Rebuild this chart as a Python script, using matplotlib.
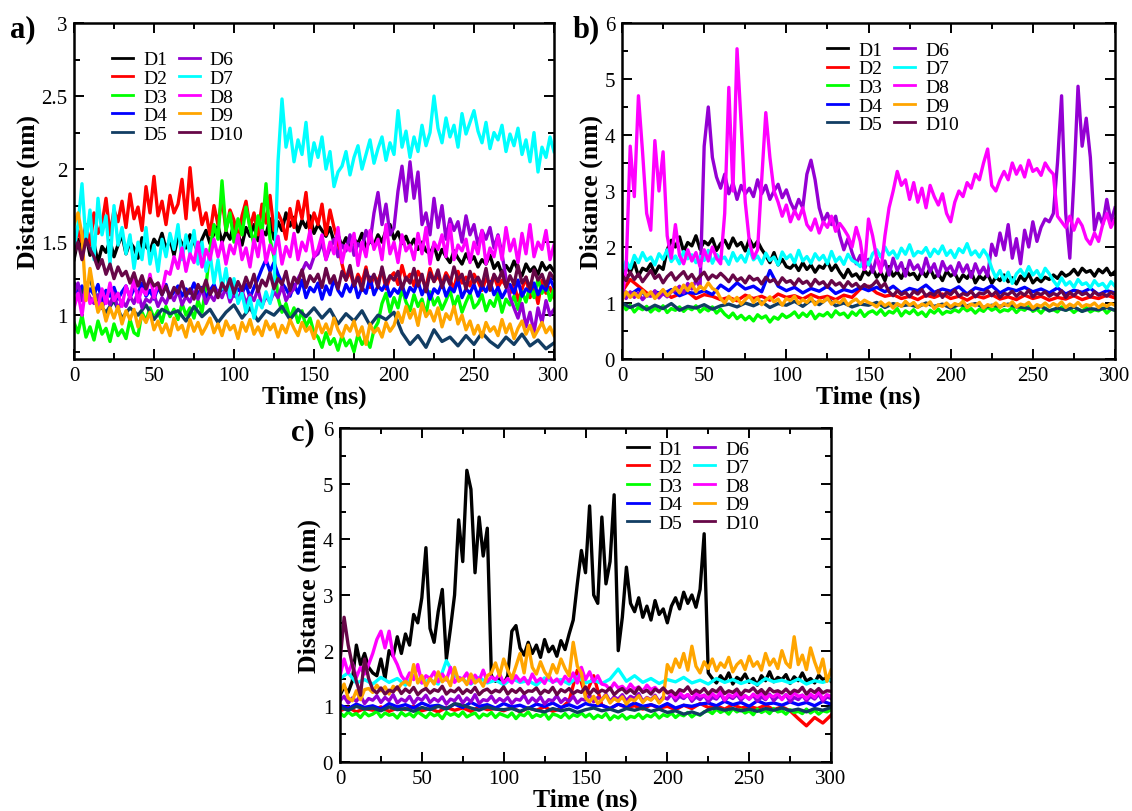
import numpy as np
import matplotlib
matplotlib.use("Agg")
import matplotlib.pyplot as plt
from matplotlib.ticker import MultipleLocator, FuncFormatter

plt.rcParams['font.family'] = ['Liberation Serif', 'DejaVu Serif']

labels = ['D1', 'D2', 'D3', 'D4', 'D5', 'D6', 'D7', 'D8', 'D9', 'D10']
colors = ['#000000', '#ff0000', '#00ff00', '#0000ff', '#123d63',
          '#9400d3', '#00ffff', '#ff00ff', '#ffa500', '#670748']
x_ticks = [0, 50, 100, 150, 200, 250, 300]

# ---------------- panel a: distances (nm), sampled uniformly over 0-300 ns
a_d1 = [1.38,1.52,1.44,1.55,1.41,1.49,1.36,1.47,1.43,
        1.51,1.40,1.48,1.55,1.42,1.50,1.46,1.39,1.53,1.47,1.44,1.52,
        1.48,1.56,1.45,1.52,1.41,1.54,1.49,1.46,1.55,1.50,1.43,1.52,
        1.58,1.49,1.56,1.61,1.50,1.57,1.52,1.63,1.55,1.48,1.60,1.54,1.62,1.51,1.58,1.55,1.66,1.52,
        1.64,1.58,1.70,1.61,1.67,1.57,1.65,1.60,1.68,1.56,1.62,1.58,1.54,1.60,
        1.50,1.55,1.47,1.53,1.45,1.52,1.49,1.56,1.46,1.51,1.48,1.55,1.50,1.58,1.62,1.52,1.57,1.49,1.54,1.47,1.52,1.45,1.50,1.44,
        1.42,1.48,1.38,1.45,1.40,1.36,1.44,1.39,1.35,1.42,1.37,1.40,1.33,1.38,1.35,1.41,
        1.32,1.36,1.28,1.34,1.30,1.37,1.31,1.27,1.35,1.30,1.33,1.28,1.36,1.31,1.34,1.30]
a_d2 = [1.45,1.58,1.50,1.62,1.48,1.70,1.56,
        1.62,1.80,1.55,1.72,1.64,1.78,1.60,1.83,1.66,1.74,1.58,1.88,1.70,1.95,1.68,1.78,1.62,1.82,1.70,1.76,1.93,1.66,2.01,1.72,1.80,1.62,
        1.70,1.55,1.75,1.62,1.80,1.58,1.72,1.65,1.50,1.68,1.78,1.60,1.70,1.55,1.76,1.63,1.82,1.58,1.70,1.64,1.52,1.73,1.60,1.78,1.66,1.84,1.56,1.70,1.62,1.76,1.55,1.72,1.60,1.50,
        1.35,1.24,1.30,1.20,1.28,1.22,1.33,1.19,1.27,1.23,1.31,1.18,1.26,1.29,1.21,1.34,1.24,1.28,1.20,1.30,1.25,1.19,1.32,1.23,1.27,1.21,1.29,1.24,1.18,1.30,1.22,1.26,1.20,1.28,1.23,1.17,1.25,1.21,1.27,1.19,1.24,1.20,
        1.15,1.22,1.10,1.18,1.26,1.12,1.20,1.08,1.24,1.15,1.19,1.12]
a_d3 = [0.95,0.88,1.00,0.85,0.92,0.83,0.96,0.87,0.91,0.82,0.94,0.86,0.90,0.84,0.97,0.88,0.86,
        1.02,0.96,1.05,0.98,1.03,0.95,1.06,0.99,1.04,0.97,1.08,1.00,1.05,0.98,1.10,1.02,1.20,
        1.45,1.62,1.52,1.92,1.58,1.70,1.50,1.66,1.55,1.74,1.60,1.48,1.68,1.56,1.90,1.52,1.40,
        1.12,1.02,1.08,0.98,1.05,0.95,1.03,0.92,0.98,0.88,
        0.85,0.78,0.88,0.80,0.84,0.76,0.86,0.79,0.83,0.75,0.87,0.80,0.84,0.78,0.90,0.95,
        1.08,1.15,1.02,1.12,1.05,1.18,1.09,1.03,1.14,1.06,1.11,1.00,1.16,1.07,1.12,1.04,1.10,1.17,1.06,1.13,1.02,1.09,1.15,1.05,
        1.08,1.14,1.03,1.10,1.06,1.15,1.02,1.11,1.07,1.13,1.04,1.16,1.09,1.20,1.12,1.25,1.15,1.22,1.10,1.18]
a_d4 = [1.22,1.15,1.20,1.12,1.18,1.14,1.21,1.10,1.17,1.13,1.19,1.11,1.16,1.20,1.12,1.18,1.15,1.22,1.13,1.17,
        1.11,1.19,1.14,1.21,1.12,1.16,1.20,1.13,1.18,1.15,1.22,1.14,1.19,1.12,1.17,1.21,1.14,1.18,
        1.16,1.20,1.13,1.18,1.15,1.21,1.12,1.19,
        1.25,1.32,1.38,1.30,1.36,1.28,1.22,
        1.18,1.13,1.21,1.15,1.24,1.12,1.19,1.16,1.22,1.11,1.20,1.14,1.25,1.17,1.13,1.21,1.16,1.23,1.12,1.19,
        1.15,1.26,1.14,1.20,1.17,1.22,1.13,1.18,1.15,1.21,1.12,1.19,1.16,1.23,1.14,1.20,1.11,1.18,1.15,1.22,
        1.13,1.19,1.16,1.24,1.12,1.18,1.15,1.21,1.13,1.20,1.16,1.23,1.14,1.19,1.12,1.17,1.21,1.15,1.24,1.13,
        1.18,1.16,1.22,1.14,1.20,1.17,1.25,1.19]
a_d5 = [1.22,1.15,1.25,
        1.08,1.02,1.10,0.98,1.05,1.00,1.07,0.97,1.04,1.01,
        1.03,0.96,1.06,0.99,1.04,0.95,1.02,1.07,0.98,1.05,0.96,1.03,1.00,1.06,0.97,1.04,0.99,1.05,
        0.98,1.04,0.94,1.01,0.96,1.03,0.93,1.00,0.97,1.02,
        0.88,0.80,0.86,0.78,0.90,0.82,0.85,0.79,
        0.86,0.80,0.88,0.82,0.78,0.85,0.80,0.87,0.79,0.83,0.77,0.81]
a_d6 = [1.15,1.22,1.10,1.18,1.12,
        1.08,1.14,1.05,1.12,1.07,1.15,1.04,1.10,1.06,1.13,1.08,1.16,1.05,1.11,1.09,1.14,1.06,1.12,
        1.08,1.15,1.10,1.17,1.07,1.13,1.09,1.16,1.11,1.18,1.08,1.14,1.10,1.17,1.12,1.19,1.09,1.15,
        1.11,1.17,1.08,1.14,1.10,1.18,1.06,1.13,1.09,1.16,1.12,1.20,1.10,1.15,1.18,1.25,1.30,1.36,1.32,1.40,
        1.42,1.50,1.38,1.46,1.52,1.40,1.48,1.44,1.55,1.41,1.49,1.46,1.58,1.50,
        1.70,1.84,1.62,1.76,1.55,1.60,
        1.85,2.02,1.78,2.05,1.80,1.98,
        1.62,1.70,1.55,1.80,1.60,1.75,1.52,1.66,1.58,
        1.64,1.50,1.68,1.55,1.62,1.48,1.58,1.52,1.60,1.46,1.55,1.42,
        1.25,1.12,1.05,0.98,1.08,0.92,1.02,0.88,1.05,0.95,1.10,1.00,1.04]
a_d7 = [1.45,1.62,1.90,1.50,1.72,1.38,1.80,1.55,1.68,1.35,1.75,1.48,1.60,
        1.42,1.55,1.32,1.50,1.38,1.60,1.35,1.48,1.30,1.52,1.40,1.56,
        1.45,1.62,1.38,1.55,1.42,1.58,1.35,1.50,
        1.30,1.42,1.22,1.38,1.18,1.32,1.12,1.25,
        1.08,1.15,1.02,1.12,0.98,1.10,1.05,1.16,1.08,1.20,
        2.05,2.48,
        2.15,2.28,2.05,2.20,2.10,2.32,2.02,2.18,2.08,2.22,2.00,2.12,
        1.88,1.98,
        2.02,2.12,1.96,2.08,2.16,2.00,2.10,2.20,2.04,2.14,2.22,2.06,2.18,2.10,
        2.40,
        2.15,2.26,2.08,2.22,2.12,2.30,2.16,2.25,
        2.50,
        2.28,2.18,2.35,2.22,2.30,2.15,2.38,2.24,2.32,2.40,
        2.26,2.18,2.32,2.14,2.25,2.20,2.30,2.12,2.24,2.16,2.28,2.10,
        2.20,2.05,2.25,1.98,2.15,2.08,2.22,2.12]
a_d8 = [1.05,1.15,1.00,1.20,1.08,
        1.12,1.05,1.18,1.08,1.22,1.10,1.15,1.06,1.20,1.12,1.25,1.09,1.18,1.14,1.28,1.12,1.22,1.16,1.30,
        1.28,1.40,1.32,1.46,1.30,1.42,1.36,1.50,1.33,1.45,1.38,1.52,
        1.40,1.50,1.35,1.48,1.42,1.55,1.38,1.46,1.33,1.52,1.40,1.58,1.36,1.48,1.42,1.54,1.35,1.47,1.40,1.56,1.38,1.50,1.44,1.58,1.40,
        1.45,1.55,1.38,1.50,1.42,1.60,1.36,1.48,1.44,1.56,1.34,1.50,1.40,1.58,1.45,1.52,1.38,1.62,1.42,1.50,
        1.36,1.55,1.44,1.48,1.38,1.56,1.42,1.60,1.35,1.50,1.45,1.55,1.40,1.62,1.38,1.48,1.44,1.52,1.36,1.50,
        1.42,1.58,1.35,1.46,1.40,1.54,1.38,1.60,1.44,1.52,1.36,1.56,1.42,1.62,1.40,1.50,1.45,1.58,1.38,1.48]
a_d9 = [1.62,1.70,1.55,1.10,1.32,
        1.15,1.02,1.08,0.96,1.05,0.98,1.06,0.94,1.03,0.97,1.04,0.92,1.00,0.95,1.02,0.90,
        0.96,0.88,0.94,0.86,0.98,0.90,0.93,0.85,0.97,0.89,0.95,0.87,0.92,0.98,0.88,0.94,0.86,0.96,0.90,0.93,
        0.84,0.95,0.89,0.97,0.87,0.92,0.86,0.96,0.90,0.94,0.85,0.93,0.88,0.97,0.91,0.86,0.95,0.89,0.92,0.84,
        0.96,0.88,0.94,0.87,0.98,0.90,0.85,0.93,0.89,0.96,0.86,0.92,0.80,0.94,0.88,0.91,0.85,0.95,0.89,0.93,
        1.02,0.95,1.06,0.98,1.04,0.93,1.08,0.99,1.03,0.96,1.05,0.92,1.01,0.97,1.06,0.94,1.00,
        0.90,0.96,0.87,0.93,0.85,0.95,0.89,0.92,0.86,0.97,0.88,0.94,0.84,0.91,0.96,0.87,0.93,0.85,0.90,0.95,0.88,0.92,0.86]
a_d10 = [1.42,1.50,1.38,1.52,1.45,
         1.40,1.32,1.38,1.28,1.35,1.25,1.33,1.27,1.30,1.22,1.29,1.20,1.27,1.18,1.25,1.20,
         1.22,1.14,1.20,1.12,1.19,1.15,1.23,1.13,1.18,1.11,1.21,1.16,1.24,1.14,1.19,1.12,1.22,1.17,1.25,1.15,
         1.23,1.17,1.26,1.19,1.28,1.16,1.24,1.20,1.29,1.18,1.25,1.21,1.30,1.17,1.26,1.22,1.31,1.19,1.27,1.23,
         1.28,1.19,1.32,1.22,1.27,1.18,1.30,1.24,1.34,1.20,1.26,1.17,1.31,1.23,1.28,1.19,1.33,1.21,1.27,1.24,
         1.30,1.18,1.26,1.22,1.32,1.20,1.28,1.16,1.29,1.23,1.31,1.19,1.27,1.21,1.33,1.24,1.28,1.18,1.30,1.22,
         1.26,1.20,1.32,1.17,1.28,1.23,1.30,1.19,1.27,1.21,1.34,1.22,1.26,1.18,1.31,1.24,1.28,1.20,1.29,1.25]

# ---------------- panel b
b_d1 = [1.50,1.65,1.55,1.72,1.48,1.62,1.58,1.70,1.52,1.66,1.60,
        1.95,2.12,2.00,2.18,1.92,2.08,2.02,2.20,1.96,2.10,2.04,2.15,1.94,2.06,2.12,1.98,2.16,2.02,2.08,1.93,2.14,2.00,2.10,1.96,
        1.85,1.72,1.90,1.68,1.78,1.65,
        1.62,1.70,1.58,1.72,1.60,1.68,1.55,1.66,1.62,1.74,1.58,1.68,
        1.55,1.45,1.60,1.48,1.52,1.42,1.58,1.50,1.62,1.46,1.55,1.40,1.65,1.48,1.56,1.44,1.60,1.50,1.53,1.42,
        1.58,1.47,1.62,1.45,1.52,1.40,1.57,1.48,1.54,1.38,1.50,1.44,1.56,1.36,1.48,1.42,1.52,1.35,1.46,1.40,
        1.50,1.38,1.45,1.34,1.48,1.40,1.52,1.36,1.44,1.38,1.46,1.42,1.50,1.44,1.55,1.48,
        1.52,1.60,1.50,1.62,1.55,1.58,1.48,1.60,1.54,1.62,1.50,1.56]
b_d2 = [1.20,1.42,1.30,
        1.18,1.12,1.22,1.10,1.16,1.20,1.08,1.15,1.12,1.06,1.10,1.04,1.14,1.08,1.12,1.05,1.16,1.10,1.13,1.07,
        1.15,1.09,1.12,1.06,1.14,1.10,1.25,1.30,1.18,1.12,1.15,1.08,1.12,1.06,1.14,1.10,1.16,1.08,1.12,1.05,
        1.13,1.09,1.15,1.07,1.11,1.06,1.14,1.08,1.12,1.05,1.10,1.07,1.13,1.06,1.11,1.08,1.14,1.09]
b_d3 = [1.00,0.88,0.96,0.84,0.92,
        0.88,0.94,0.84,0.91,0.86,0.95,0.83,0.90,0.87,0.93,0.85,0.92,0.88,0.95,0.84,0.91,0.86,0.93,0.82,0.89,
        0.80,0.74,0.82,0.72,0.78,0.70,0.76,0.68,0.79,0.73,0.77,0.66,0.75,0.71,0.80,0.74,
        0.78,0.84,0.74,0.82,0.76,0.85,0.72,0.80,0.77,0.83,0.75,0.86,0.79,0.82,0.74,0.84,0.78,0.87,0.76,0.83,
        0.86,0.80,0.88,0.78,0.85,0.82,0.90,0.77,0.86,0.81,0.88,0.79,0.84,0.76,0.87,0.82,0.89,0.80,0.85,0.83,
        0.88,0.84,0.92,0.86,0.90,0.82,0.89,0.85,0.93,0.87,0.91,0.84,0.88,0.86,0.92,0.83,0.90,0.87,0.94,0.85,
        0.89,0.82,0.91,0.86,0.88,0.84,0.93,0.87,0.90,0.83,0.89,0.85,0.92,0.84,0.88,0.86,0.91,0.82,0.89,0.87]
b_d4 = [1.22,1.15,1.25,1.12,1.20,1.16,1.24,1.13,1.19,1.17,
        1.22,1.15,
        1.32,1.22,1.36,1.25,1.30,1.20,
        1.58,
        1.30,1.22,1.28,1.18,1.26,1.21,1.30,1.17,1.24,1.20,1.28,1.22,
        1.28,1.20,1.30,1.18,1.26,1.22,1.32,1.19,1.25,1.21,1.29,1.16,1.27,1.23,1.31,1.18,1.26,1.22,1.28,1.20,
        1.25,1.18,1.27,1.16,1.23,1.19,1.26,1.15,1.22,1.18]
b_d5 = [1.00,0.92,0.98,0.88,0.96,0.90,0.99,0.87,0.94,0.91,0.97,0.89,0.95,
        0.98,0.93,1.00,0.95,1.02,0.92,0.99,0.96,1.03,0.94,1.05,0.97,1.08,0.95,1.00,0.93,0.98,0.96,1.01,0.92,
        0.99,0.95,0.97,0.93,1.00,0.94,0.98,0.91,0.97,0.95,0.99,0.92,0.96,0.94,0.98,0.93,
        0.92,0.88,0.94,0.86,0.91,0.87,0.93,0.85,0.90,0.88,0.92,0.87]
b_d6 = [1.15,1.08,1.20,1.10,1.18,1.06,1.14,1.12,1.22,1.09,1.17,1.11,1.20,
        1.22,1.30,1.18,1.35,1.25,1.40,1.28,
        3.80,4.50,3.60,
        3.25,3.05,3.30,2.95,3.15,2.85,3.10,2.95,
        3.05,2.90,3.20,2.95,3.10,2.85,3.00,3.12,2.88,3.02,
        2.80,2.65,2.85,2.70,
        3.30,3.55,3.20,
        2.70,2.45,2.60,2.40,2.55,
        2.20,1.95,2.15,1.90,
        1.70,1.85,1.60,1.78,1.55,1.82,1.62,1.75,1.50,1.80,1.58,1.72,1.48,1.76,1.60,1.68,1.52,1.80,1.56,1.70,
        1.48,1.74,1.58,1.66,1.50,1.72,1.55,1.68,1.46,1.70,1.52,1.64,1.48,
        2.05,1.85,2.25,1.95,2.40,1.80,2.15,1.70,2.30,2.00,2.45,2.10,2.35,2.50,
        2.45,2.60,3.50,
        4.70,2.60,1.80,3.20,4.87,3.80,4.30,3.60,2.30,
        2.60,2.40,2.85,2.45,2.70]
b_d7 = [1.55,1.75,1.62,
        1.85,1.72,1.90,1.76,1.82,1.68,1.88,1.78,1.95,1.74,1.84,1.70,1.92,1.79,1.86,1.72,1.83,1.76,1.94,1.71,
        1.87,1.78,1.82,1.69,1.90,1.75,1.85,1.73,1.96,1.77,1.84,1.70,1.89,1.76,1.82,1.68,1.91,1.79,1.86,1.72,
        1.94,1.75,1.83,1.71,1.88,1.77,1.85,1.70,1.92,1.74,1.82,1.69,1.87,1.76,
        1.72,1.65,1.78,1.68,
        1.88,1.95,1.82,2.00,1.86,1.93,1.80,1.98,1.87,2.04,1.84,1.92,1.89,1.99,1.83,1.96,1.88,2.02,1.85,1.94,
        1.81,1.97,1.90,2.06,1.86,1.93,1.82,1.95,1.84,
        1.62,1.45,1.58,1.40,1.55,1.35,1.52,
        1.60,1.48,1.65,1.50,1.58,1.45,1.62,1.52,
        1.40,1.30,1.45,1.32,1.38,1.28,1.42,1.33,1.36,1.27,1.40,1.31,1.35,1.26,1.38,1.30]
b_d8 = [1.10,1.60,3.80,2.90,4.70,3.70,2.60,2.30,3.90,3.00,3.70,2.20,1.80,
        2.40,1.85,1.70,1.95,1.75,1.90,1.65,
        1.95,1.75,2.00,1.80,1.70,
        2.60,4.85,3.00,5.54,4.20,2.80,2.10,1.80,1.95,3.20,4.40,3.60,3.00,
        2.80,2.55,2.75,2.45,2.65,2.50,2.70,
        2.40,2.30,2.50,2.25,2.45,2.35,2.55,2.28,2.42,2.32,2.20,
        2.00,2.35,2.10,
        1.60,2.50,2.20,1.80,1.55,2.20,2.70,3.00,3.35,3.10,
        3.20,2.85,3.15,2.80,3.05,2.70,3.10,2.90,
        2.75,2.95,2.60,2.45,
        2.80,3.00,2.90,3.15,3.05,3.30,3.20,3.50,
        3.75,
        3.10,3.00,3.20,
        3.35,3.20,3.50,3.30,3.45,3.25,3.55,3.35,3.40,3.28,3.50,3.38,
        3.30,2.55,
        2.45,2.35,2.55,2.30,2.50,2.38,
        2.15,2.05,2.25,2.10,
        2.40,2.60,2.35,2.50]
b_d9 = [1.05,1.20,1.10,
        1.18,1.10,1.22,1.12,1.20,1.08,1.16,1.24,1.13,1.20,
        1.28,1.18,1.32,1.22,1.35,1.20,1.30,1.24,1.36,1.26,
        1.22,
        1.08,1.00,1.12,1.03,1.10,0.98,1.06,1.13,1.01,1.09,0.97,1.05,1.11,1.02,1.07,0.96,1.08,1.04,1.12,0.99,
        1.06,1.01,1.10,0.97,1.05,1.02,1.09,0.98,1.04,1.00,1.08,0.96,1.03,1.07,0.99,1.05,1.01,
        0.98,0.93,1.02,0.95,1.00,0.91,0.99,0.94,1.03,0.96,1.01,0.92,0.98,0.95,1.02,0.90,0.97,0.94,1.00,0.93,
        0.99,0.96,1.03,0.92,0.98,0.95,1.01,0.91,0.97,0.94,1.00,0.92,0.99,0.95,1.02,0.93,0.98,0.96,1.01,0.91,
        0.97,0.94,1.00,0.93,0.99,0.95,1.02,0.92,0.98,0.94,1.01,0.93,0.97,0.95,1.00,0.92,0.98,0.94,0.99,0.96]
b_d10 = [1.50,1.40,1.55,1.42,1.52,1.38,1.48,1.58,1.44,1.50,1.36,1.47,1.54,1.41,1.49,1.56,1.43,1.51,1.39,1.48,
         1.55,1.42,1.50,1.45,1.53,
         1.46,1.38,1.50,1.40,1.45,1.36,1.48,1.41,1.44,1.34,1.46,1.38,1.42,1.33,1.45,1.37,1.40,1.32,1.43,1.35,
         1.39,1.30,1.42,1.34,1.38,1.28,1.40,1.32,1.36,1.27,1.38,1.30,1.35,1.26,1.33,1.28,
         1.32,1.40,1.28,1.35,
         1.20,1.13,1.22,1.15,1.19,1.11,1.21,1.16,1.24,1.12,1.18,1.14,1.22,1.10,1.19,1.15,1.23,1.12,1.17,1.14,
         1.21,1.11,1.18,1.16,1.22,1.13,1.20,1.10,1.17,1.15,1.21,1.12,1.19,1.14,1.23,1.11,1.18,1.15,1.20,1.12,
         1.17,1.14,1.22,1.10,1.19,1.13,1.21,1.15,1.18,1.11,1.20,1.14,1.17,1.12,1.19,1.15]

# ---------------- panel c
c_d1 = [1.20,1.35,1.25,1.45,2.10,1.75,1.95,1.70,1.60,1.55,1.85,1.50,2.00,1.90,2.25,1.95,2.30,2.10,2.65,2.50,
        2.95,3.85,2.40,2.15,2.70,3.10,1.85,2.40,3.00,4.35,3.60,5.24,4.90,3.40,4.40,3.70,4.20,1.55,1.45,1.50,
        1.40,1.55,2.35,2.45,
        2.05,1.92,2.15,1.95,2.10,1.88,2.20,1.98,2.08,1.90,2.18,2.02,
        2.30,2.55,3.20,3.80,3.40,4.60,3.00,2.85,4.40,3.20,3.60,4.80,2.00,2.60,3.50,
        2.85,2.70,2.95,2.60,2.80,2.55,2.90,2.65,2.75,2.50,
        2.80,2.95,2.75,3.05,2.85,3.00,2.78,3.10,
        4.10,1.60,
        1.50,1.42,1.55,1.45,1.60,1.40,1.52,1.47,1.58,1.43,1.50,1.38,1.55,1.46,1.62,1.44,1.52,1.48,1.57,1.41,
        1.53,1.46,1.60,1.45,1.50,1.42,1.56,1.48,1.52,1.45]
c_d2 = [0.92,0.98,0.90,0.96,0.93,0.99,0.91,0.97,0.94,1.00,0.92,0.96,0.90,0.98,0.93,0.97,0.91,0.99,0.94,0.96,
        0.92,0.98,0.90,0.97,0.93,0.99,0.91,0.96,
        1.10,1.65,1.20,1.55,
        1.02,0.96,1.04,0.98,1.01,0.95,1.03,0.97,1.00,0.94,1.02,0.96,1.05,0.98,1.01,0.95,1.03,0.97,1.00,0.96,
        1.02,0.94,0.99,0.92,
        0.78,0.65,0.80,0.70,0.84]
c_d3 = [0.88,0.82,0.90,0.84,0.87,0.80,0.89,0.83,0.86,0.91,0.81,0.88,0.84,0.86,0.79,0.89,0.83,0.87,0.81,0.90,
        0.85,0.80,0.88,0.83,0.86,0.78,0.89,0.84,0.87,0.82,0.90,0.81,0.85,0.88,0.79,0.86,0.83,0.89,0.80,0.87,
        0.84,0.81,0.88,0.78,0.86,0.83,0.90,0.80,0.85,0.82,0.88,0.77,0.86,0.84,0.80,0.87,0.79,0.85,0.82,0.88,
        0.81,0.86,0.78,0.84,0.80,0.87,0.76,0.83,0.79,0.85,0.77,0.82,0.80,0.86,0.78,0.84,0.81,0.87,0.79,0.85,
        0.82,0.88,0.80,0.86,0.83,0.89,0.81,0.87,0.84,0.90,
        0.92,0.87,0.95,0.89,0.93,0.86,0.96,0.90,0.94,0.88,0.92,0.85,0.95,0.89,0.93,0.87,0.96,0.90,0.92,0.86,
        0.94,0.89,0.91,0.87,0.95,0.88,0.93,0.86,0.92,0.90,0.94]
c_d4 = [1.02,0.96,1.04,0.98,1.01,0.95,1.05,0.99,1.03,0.97,1.06,1.00,1.02,0.96,1.04,0.98,1.07,1.00,1.03,0.97,
        1.05,0.99,1.02,0.96,1.04,1.00,1.06,0.98,1.03,0.97,1.05,1.01,1.02,0.96,1.04,0.99,1.06,1.00,1.03,0.98,
        1.05,0.97,1.02,1.00,1.04,
        1.06,1.01,1.09,1.03,1.07,1.00,1.10,1.04,1.06,1.02,1.08,1.03,1.07,1.01,1.09,1.04]
c_d5 = [0.98,0.93,1.00,0.95,0.97,0.92,0.99,0.94,0.96,0.91,0.98,0.94,1.00,0.95,1.05,1.02,0.97,0.93,0.99,0.95,
        0.94,0.96,0.91,0.97,0.93,0.90,0.96,0.92,0.95,0.89,0.94,0.97,0.92,0.95,0.90,0.96,0.93,0.97,0.91,0.95,
        0.89,0.92,0.86,0.90,0.85,0.94,0.97,0.93,0.96,0.92,0.95,0.91,0.96,0.93,0.97,0.92,0.95,0.90,0.96,0.93,0.98]
c_d6 = [1.10,1.18,1.06,1.15,1.09,1.20,1.05,1.14,1.11,1.19,1.07,1.16,1.10,1.21,1.06,1.13,1.09,1.18,1.05,1.15,
        1.11,1.20,1.07,1.14,1.09,1.17,1.04,1.13,1.10,1.19,1.06,1.15,1.08,1.21,1.05,1.12,1.10,1.18,1.07,1.14,
        1.09,1.16,1.05,1.13,1.11,1.20,1.06,1.15,1.08,1.17,1.04,1.12,1.10,1.19,1.07,1.14,1.09,1.18,1.06,1.13,
        1.11,1.20,1.08,1.16,1.12,1.22,1.09,1.17,1.13,1.21,1.10,1.18,1.14,1.23,1.09,1.16,1.12,1.20,1.08,1.17,
        1.13,1.22,1.10,1.18,1.14,1.21,1.09,1.17,1.12,1.20,1.08,1.16,1.13,1.22,1.10,1.18,1.14,1.21,1.11,1.19,
        1.13,1.20,1.09,1.17,1.12,1.22,1.10,1.18,1.14,1.21,1.08,1.16,1.12,1.20,1.10,1.18,1.13,1.22,1.09,1.17,1.14]
c_d7 = [1.50,1.60,1.42,
        1.48,1.40,1.52,1.43,1.50,1.38,1.55,1.42,1.48,1.40,
        1.82,1.55,
        1.48,1.40,1.52,1.42,1.47,1.39,1.50,1.43,1.46,1.38,1.51,1.44,1.48,1.40,1.53,1.42,1.47,1.41,1.49,1.67,
        1.45,1.55,1.43,1.50,1.41,1.48,1.44,1.52,1.42,1.47,1.40,1.50,1.43,1.48,1.41,1.46,1.39,1.50,1.44,1.47,
        1.42,1.49,1.40,1.46,1.43,1.48]
c_d8 = [1.55,1.85,
        1.60,1.78,1.52,1.70,1.58,
        1.75,1.95,
        2.20,2.35,2.05,2.35,
        1.90,1.75,
        1.55,1.45,1.60,1.48,1.75,1.42,1.55,1.50,1.62,1.44,1.58,1.47,1.70,1.43,1.52,1.49,1.60,1.41,1.56,1.46,
        1.65,1.44,1.53,1.48,1.58,1.42,
        1.50,1.42,1.55,1.45,1.52,1.40,1.58,1.44,1.50,1.41,1.56,1.43,1.49,1.40,1.54,1.45,1.60,1.42,1.70,1.48,
        1.62,1.44,1.55,1.40,
        1.38,1.30,1.42,1.33,1.36,1.28,1.40,1.31,1.35,1.27,1.38,1.30,1.34,1.26,1.32,1.25,
        1.22,1.15,1.25,1.17,1.21,1.13,1.24,1.18,1.20,1.14,1.23,1.16,1.26,1.12,1.21,1.17,1.24,1.15,1.19,1.13,
        1.22,1.16,1.25,1.14,1.20,1.17,1.23,1.12,1.21,1.15,1.24,1.18,1.20,1.14,1.22,1.16,1.26,1.13,1.21,1.18]
c_d9 = [1.25,1.40,1.15,
        1.10,1.28,1.12,1.30,
        1.32,1.25,1.38,1.28,1.35,1.22,1.36,1.30,1.40,
        1.45,1.38,1.75,1.42,1.55,1.36,1.50,1.40,1.62,1.44,1.52,1.37,1.70,1.45,1.50,1.39,1.58,1.42,1.48,1.36,1.55,
        1.60,1.78,1.55,1.85,1.65,1.50,1.72,1.95,1.60,2.10,1.70,1.58,1.80,1.62,1.52,1.75,1.60,1.85,1.68,1.55,
        2.15,1.72,1.60,
        1.15,1.08,1.18,1.05,1.12,1.20,1.06,1.14,1.09,1.17,1.04,1.13,1.10,1.19,1.07,1.15,1.11,1.18,1.06,1.14,
        1.75,1.62,1.85,1.70,1.95,1.65,2.08,1.72,1.60,1.80,1.68,1.85,1.64,1.78,1.70,1.88,1.62,1.75,1.82,1.66,
        1.90,1.72,1.80,1.65,1.95,1.74,1.85,1.68,2.00,1.78,1.70,2.25,1.75,1.92,1.66,2.05,1.80,1.60,1.85,1.45,
        1.65]
c_d10 = [1.80,2.60,2.10,1.75,1.45,1.20,1.85,1.50,
         1.30,1.24,1.33,1.22,1.29,1.26,1.35,1.23,1.31,1.25,1.34,1.21,1.28,1.32,1.24,1.30,1.27,1.36,1.22,1.29,
         1.26,1.33,1.23,1.30,1.25,1.34,1.21,1.28,1.31,1.24,1.29,1.26,1.35,1.22,1.30,1.25,1.32,1.23,1.28,1.27,
         1.33,1.22,1.29,1.25,1.34,1.21,1.30,1.26,1.32,1.23,1.28,1.25,1.35,1.22,1.31,1.24,1.29,1.26,1.33,1.21,
         1.28,1.32,1.24,1.30,1.23,1.34,1.25,1.29,1.22,1.31,1.26,1.33,1.24,1.28,1.21,1.30,1.27,1.35,1.23,1.29,
         1.25,1.32,1.22,1.30,1.26,1.34,1.23,1.28,1.25,1.31,1.21,1.29,1.27,1.33,1.24,1.30,1.22,1.32,1.26,1.28,
         1.24,1.31,1.23,1.29,1.26,1.34,1.22,1.30,1.25,1.32,1.24,1.28,1.27]

panel_a = [a_d1, a_d2, a_d3, a_d4, a_d5, a_d6, a_d7, a_d8, a_d9, a_d10]
panel_b = [b_d1, b_d2, b_d3, b_d4, b_d5, b_d6, b_d7, b_d8, b_d9, b_d10]
panel_c = [c_d1, c_d2, c_d3, c_d4, c_d5, c_d6, c_d7, c_d8, c_d9, c_d10]

W, H = 1132, 812
fig = plt.figure(figsize=(W / 100, H / 100), dpi=100)


def px_axes(left, top, right, bottom):
    return fig.add_axes([left / W, 1 - bottom / H, (right - left) / W, (bottom - top) / H])


def draw(ax, series, ylim, ymajor, yminor, leg_anchor):
    for vals, col, lab in zip(series, colors, labels):
        t = np.linspace(0, 300, len(vals))
        ax.plot(t, vals, color=col, lw=2.4, label=lab)
    ax.set_xlim(0, 300)
    ax.set_ylim(*ylim)
    ax.set_xticks(x_ticks)
    ax.xaxis.set_minor_locator(MultipleLocator(25))
    ax.yaxis.set_major_locator(MultipleLocator(ymajor))
    ax.yaxis.set_minor_locator(MultipleLocator(yminor))
    ax.yaxis.set_major_formatter(FuncFormatter(lambda v, p: '%g' % v))
    ax.tick_params(which='both', direction='in', top=True, right=True,
                   width=1.4, labelsize=15, pad=5)
    ax.tick_params(which='major', length=7)
    ax.tick_params(which='minor', length=4.5)
    for s in ax.spines.values():
        s.set_linewidth(1.8)
    ax.set_xlabel('Time (ns)', fontsize=18.5, fontweight='bold', labelpad=0)
    ax.set_ylabel('Distance (nm)', fontsize=18.5, fontweight='bold', labelpad=1)
    leg = ax.legend(ncol=2, loc='upper left', bbox_to_anchor=leg_anchor, frameon=False,
                    fontsize=14, handlelength=1.1, handletextpad=0.5, columnspacing=0.6,
                    labelspacing=0.05, borderpad=0, borderaxespad=0)
    for h in leg.get_lines():
        h.set_linewidth(2.0)


ax_a = px_axes(74, 24, 554, 360)
draw(ax_a, panel_a, (0.7, 3.0), 0.5, 0.25, (0.079, 0.917))
ax_b = px_axes(622, 24, 1115, 360)
draw(ax_b, panel_b, (0, 6), 1, 0.5, (0.416, 0.946))
ax_c = px_axes(340, 429, 831, 763)
draw(ax_c, panel_c, (0, 6), 1, 0.5, (0.585, 0.964))

for tag, x, y in [('a)', 10, 30), ('b)', 573, 30), ('c)', 291, 433)]:
    fig.text(x / W, 1 - y / H, tag, fontsize=22, fontweight='bold', ha='left', va='center')

fig.savefig('out.png', dpi=100)
